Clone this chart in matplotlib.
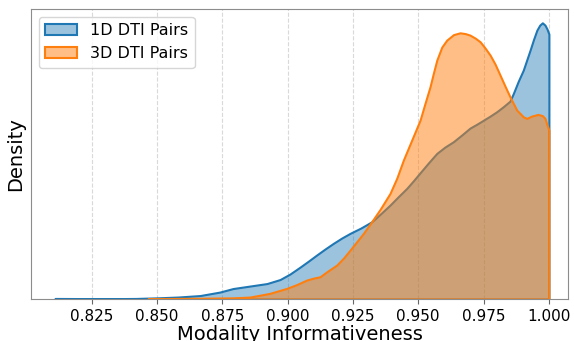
import matplotlib
matplotlib.use("Agg")
import matplotlib.pyplot as plt
from matplotlib.colors import to_rgba

# KDE curves (x = informativeness, y = density)
x_1d = [0.8110, 0.8205, 0.8320, 0.8420, 0.8500, 0.8580, 0.8665, 0.8741, 0.8791,
        0.8856, 0.8921, 0.8971, 0.9009, 0.9048, 0.9080, 0.9111, 0.9143, 0.9175,
        0.9207, 0.9239, 0.9280, 0.9322, 0.9357, 0.9392, 0.9424, 0.9456, 0.9482,
        0.9507, 0.9540, 0.9571, 0.9602, 0.9634, 0.9666, 0.9698, 0.9725, 0.9750,
        0.9775, 0.9800, 0.9826, 0.9851, 0.9864, 0.9883, 0.9902, 0.9915, 0.9928,
        0.9941, 0.9954, 0.9965, 0.9975, 0.9985, 0.9993, 1.0000]
y_1d = [0.06, 0.05, 0.04, 0.06, 0.12, 0.20, 0.35, 0.70, 1.05,
        1.30, 1.55, 1.95, 2.50, 3.20, 3.80, 4.40, 5.00, 5.57,
        6.10, 6.57, 7.10, 7.73, 8.55, 9.40, 10.25, 11.07, 11.85,
        12.63, 13.65, 14.57, 15.20, 15.73, 16.40, 17.10, 17.50, 17.90,
        18.30, 18.73, 19.25, 19.80, 20.57, 21.80, 22.90, 23.90, 24.90,
        25.95, 26.90, 27.40, 27.63, 27.40, 27.00, 26.50]

x_3d = [0.8466, 0.8560, 0.8665, 0.8791, 0.8856, 0.8932, 0.8997, 0.9035, 0.9073,
        0.9100, 0.9124, 0.9150, 0.9188, 0.9214, 0.9239, 0.9265, 0.9290, 0.9322,
        0.9354, 0.9392, 0.9418, 0.9443, 0.9475, 0.9507, 0.9525, 0.9545, 0.9558,
        0.9571, 0.9590, 0.9609, 0.9635, 0.9660, 0.9680, 0.9698, 0.9718, 0.9737,
        0.9756, 0.9775, 0.9794, 0.9813, 0.9832, 0.9851, 0.9877, 0.9902, 0.9915,
        0.9934, 0.9958, 0.9975, 0.9985, 0.9993, 1.0000]
y_3d = [0.05, 0.06, 0.08, 0.12, 0.20, 0.57, 1.07, 1.45, 1.90,
        2.10, 2.23, 2.73, 3.40, 4.10, 4.90, 5.75, 6.57, 7.75,
        8.97, 10.57, 12.10, 13.90, 15.90, 17.90, 19.50, 21.23, 22.60,
        23.90, 25.20, 25.90, 26.45, 26.63, 26.55, 26.40, 26.10, 25.73,
        25.10, 24.40, 23.50, 22.40, 21.30, 20.23, 18.90, 18.23, 18.07,
        18.30, 18.47, 18.35, 18.07, 17.40, 16.90]

labels = ['1D DTI Pairs', '3D DTI Pairs']
colors = ['#1f77b4', '#ff7f0e']
alphas = [0.44, 0.5]
xticks = [0.825, 0.850, 0.875, 0.900, 0.925, 0.950, 0.975, 1.000]

fig = plt.figure(figsize=(5.74, 3.41), dpi=100)
ax = fig.add_axes([0.054, 0.123, 0.9355, 0.8506])

for xs, ys, c, a, lab in zip([x_1d, x_3d], [y_1d, y_3d], colors, alphas, labels):
    ax.fill_between(xs, ys, 0, facecolor=to_rgba(c, a), edgecolor=c,
                    linewidth=1.5, label=lab)

ax.set_xlim(0.8018, 1.0073)
ax.set_ylim(0, max(y_1d) * 1.05)
ax.set_xticks(xticks)
ax.set_xticklabels(['%.3f' % t for t in xticks], fontsize=11)
ax.set_yticks([])
ax.grid(axis='x', linestyle='--', color='0.85', linewidth=0.8)
ax.set_axisbelow(True)
for s in ax.spines.values():
    s.set_color('0.55')
ax.tick_params(axis='x', color='0.4', length=3.5)
ax.set_xlabel('Modality Informativeness', fontsize=14, labelpad=1)
ax.set_ylabel('Density', fontsize=14, labelpad=4)
ax.legend(loc='upper left', fontsize=11.5, framealpha=0.8)

fig.savefig('out.png', dpi=100)
